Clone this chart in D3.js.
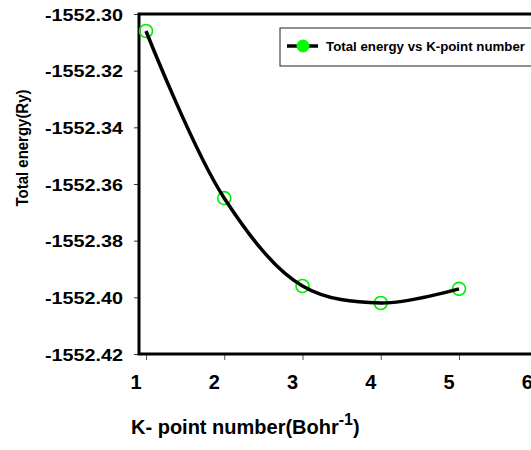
<!DOCTYPE html>
<html>
    <head>
        <meta charset="utf-8" />
        <script src="https://d3js.org/d3.v7.min.js"></script>
        <style>
            body {
                margin: 0;
                background-color: white;
            }
            svg {
                display: block;
                font-family: 'Liberation Sans', Arial, sans-serif;
                font-weight: bold;
            }
        </style>
    </head>
    <body>
        <svg></svg>
        <script>
            // k-point number vs total energy (Ry)
            const kPoints = [1, 2, 3, 4, 5]
            const energies = [-1552.306, -1552.365, -1552.396, -1552.402, -1552.397]
            const yTicks = [-1552.3, -1552.32, -1552.34, -1552.36, -1552.38, -1552.4, -1552.42]
            const xTicks = [1, 2, 3, 4, 5, 6]

            function drawChart() {
                const width = 531
                const height = 450
                const plotLeft = 139
                const plotTop = 14
                const plotBottom = 354

                const svg = d3.select('svg').attr('width', width).attr('height', height)

                const x = d3.scaleLinear().domain([1, 5]).range([146, 459])
                const y = d3
                    .scaleLinear()
                    .domain([-1552.3, -1552.42])
                    .range([plotTop, plotBottom])
                const plotRight = x(6.4)

                // y axis ticks + labels (plain hyphen, not the unicode minus)
                const yAxis = svg
                    .append('g')
                    .attr('transform', `translate(${plotLeft},0)`)
                    .call(
                        d3
                            .axisLeft(y)
                            .tickValues(yTicks)
                            .tickSize(5)
                            .tickPadding(11)
                            .tickFormat((d) => d.toFixed(2))
                    )
                yAxis.select('.domain').remove()
                yAxis.selectAll('line').attr('stroke', '#333')
                yAxis
                    .selectAll('text')
                    .attr('font-size', 16.5)
                    .attr('font-family', "'Liberation Sans', Arial, sans-serif")
                    .attr('font-weight', 'bold')
                    .attr('fill', '#000')
                    .attr('dy', '0.38em')
                    .attr('textLength', 78)
                    .attr('lengthAdjust', 'spacingAndGlyphs')

                // x axis ticks; the labels sit a bit left of their ticks in the original
                const xAxis = svg
                    .append('g')
                    .attr('transform', `translate(0,${plotBottom})`)
                    .call(d3.axisBottom(x).tickValues(kPoints).tickSize(6).tickFormat(''))
                xAxis.select('.domain').remove()
                xAxis.selectAll('line').attr('stroke', '#555')

                svg.append('g')
                    .selectAll('text')
                    .data(xTicks)
                    .enter()
                    .append('text')
                    .attr('x', (d) => x(d) - 10)
                    .attr('y', 389)
                    .attr('text-anchor', 'middle')
                    .attr('font-size', 20)
                    .text((d) => d)

                // frame: left, bottom, top
                svg.append('path')
                    .attr('d', `M${plotRight},${plotTop}H${plotLeft}V${plotBottom}H${plotRight}`)
                    .attr('fill', 'none')
                    .attr('stroke', '#000')
                    .attr('stroke-width', 3)

                // axis titles
                svg.append('text')
                    .attr('transform', 'translate(28,148) rotate(-90)')
                    .attr('text-anchor', 'middle')
                    .attr('font-size', 16)
                    .attr('textLength', 117)
                    .attr('lengthAdjust', 'spacingAndGlyphs')
                    .text('Total energy(Ry)')

                const xTitle = svg
                    .append('text')
                    .attr('x', 131)
                    .attr('y', 434)
                    .attr('font-size', 20)
                xTitle.append('tspan').text('K- point number(Bohr')
                xTitle.append('tspan').attr('dy', -9).attr('font-size', 16).text('-1')
                xTitle.append('tspan').attr('dy', 9).text(')')

                // data
                const pts = kPoints.map((k, i) => [x(k), y(energies[i])])

                svg.append('g')
                    .selectAll('circle')
                    .data(pts)
                    .enter()
                    .append('circle')
                    .attr('cx', (d) => d[0])
                    .attr('cy', (d) => d[1])
                    .attr('r', 6.5)
                    .attr('fill', 'none')
                    .attr('stroke', '#00ee00')
                    .attr('stroke-width', 1.6)

                svg.append('path')
                    .attr('d', d3.line().curve(d3.curveCatmullRom.alpha(0.5))(pts))
                    .attr('fill', 'none')
                    .attr('stroke', '#000')
                    .attr('stroke-width', 3.5)

                // legend
                const lg = svg.append('g').attr('transform', 'translate(280,28)')
                lg.append('rect')
                    .attr('width', 270)
                    .attr('height', 38)
                    .attr('fill', 'white')
                    .attr('stroke', '#222')
                    .attr('stroke-width', 1)
                lg.append('line')
                    .attr('x1', 7)
                    .attr('x2', 38)
                    .attr('y1', 18)
                    .attr('y2', 18)
                    .attr('stroke', '#000')
                    .attr('stroke-width', 3.5)
                lg.append('circle')
                    .attr('cx', 23)
                    .attr('cy', 18)
                    .attr('r', 6.5)
                    .attr('fill', '#00ff00')
                lg.append('text')
                    .attr('x', 46)
                    .attr('y', 23)
                    .attr('font-size', 13.5)
                    .attr('textLength', 199)
                    .attr('lengthAdjust', 'spacingAndGlyphs')
                    .text('Total energy vs K-point number')
            }

            drawChart()
        </script>
    </body>
</html>
